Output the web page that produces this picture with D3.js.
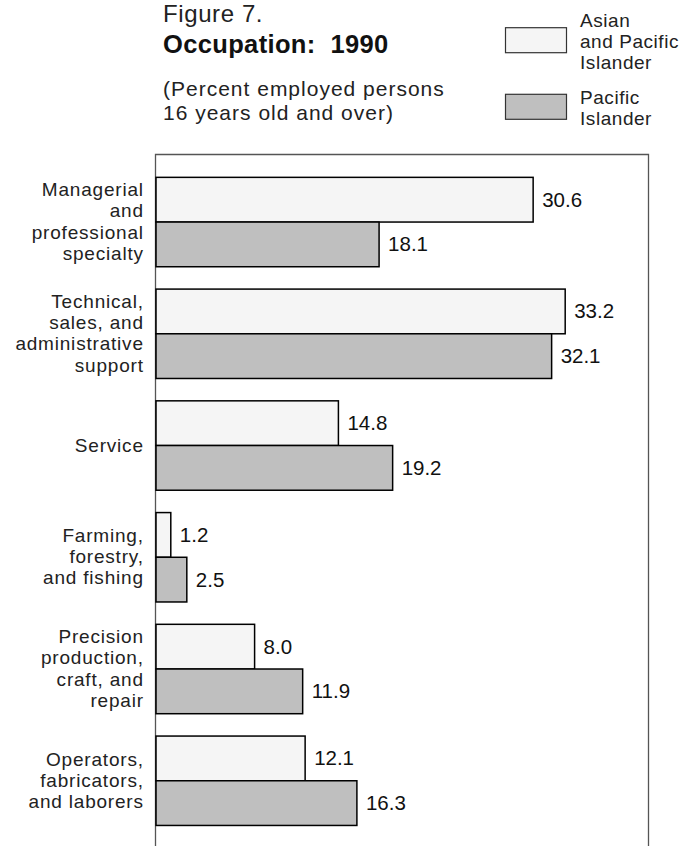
<!DOCTYPE html>
<html>
<head>
<meta charset="utf-8">
<script src="https://cdn.jsdelivr.net/npm/d3@7"></script>
<style>
  html, body { margin: 0; padding: 0; background: #fff; }
  svg { display: block; font-family: "Liberation Sans", Arial, Helvetica, sans-serif; }
  text { white-space: pre; }
</style>
</head>
<body>
<svg id="chart" width="691" height="846"></svg>
<script>
// Occupation groups (line breaks mark the wrapped label lines)
const categories = [
  "Managerial\nand\nprofessional\nspecialty",
  "Technical,\nsales, and\nadministrative\nsupport",
  "Service",
  "Farming,\nforestry,\nand fishing",
  "Precision\nproduction,\ncraft, and\nrepair",
  "Operators,\nfabricators,\nand laborers"
];
const seriesNames = ["Asian and Pacific Islander", "Pacific Islander"];
const legendLabels = [["Asian", "and Pacific", "Islander"], ["Pacific", "Islander"]];
const asianPacificIslander = [30.6, 33.2, 14.8, 1.2, 8.0, 12.1];
const pacificIslander = [18.1, 32.1, 19.2, 2.5, 11.9, 16.3];
const seriesValues = [asianPacificIslander, pacificIslander];
const titleLines = ["Figure 7.", "Occupation:  1990"];
const subtitleLines = ["(Percent employed persons", "16 years old and over)"];

const fills = ["#f5f5f5", "#bfbfbf"];
const svg = d3.select("#chart");

// Scales
const x = d3.scaleLinear().domain([0, 40]).range([156, 649]);
const y = d3.scaleBand().domain(categories).range([155, 847.8])
  .paddingInner(0.2).paddingOuter(0.2);
const ySub = d3.scaleBand().domain(seriesNames).range([0, y.bandwidth()]);

// Plot frame (open at the bottom of the page)
svg.append("path")
  .attr("d", `M155.5,${850}V154.5H648.5V${850}`)
  .attr("fill", "none").attr("stroke", "#555").attr("stroke-width", 1.3);

// Titles
svg.append("text").attr("x", 163).attr("y", 22)
  .attr("font-size", 24).attr("letter-spacing", 0.6)
  .attr("fill", "#222").text(titleLines[0]);
svg.append("text").attr("x", 163).attr("y", 53)
  .attr("font-size", 25.5).attr("font-weight", "bold").attr("fill", "#111")
  .attr("letter-spacing", 0.35).text(titleLines[1]);
subtitleLines.forEach((t, i) => {
  svg.append("text").attr("x", 163).attr("y", 96 + i * 23.5)
    .attr("font-size", 21).attr("fill", "#222")
    .attr("letter-spacing", 1.0).text(t);
});

// Legend
const legendBoxY = [27.7, 94.3];
const legendTextY = [26.5, 104];
const legendLH = 21.2;
seriesNames.forEach((s, i) => {
  svg.append("rect")
    .attr("x", 505.5).attr("y", legendBoxY[i])
    .attr("width", 61).attr("height", 25)
    .attr("fill", fills[i]).attr("stroke", "#333").attr("stroke-width", 1.2);
  legendLabels[i].forEach((t, j) => {
    svg.append("text").attr("x", 580).attr("y", legendTextY[i] + j * legendLH)
      .attr("font-size", 19).attr("letter-spacing", 0.55)
      .attr("fill", "#222").text(t);
  });
});

// Bars
const groups = svg.append("g").selectAll("g")
  .data(categories)
  .join("g")
  .attr("transform", d => `translate(0,${y(d)})`);

groups.each(function(cat, ci) {
  const g = d3.select(this);
  seriesNames.forEach((s, si) => {
    const v = seriesValues[si][ci];
    g.append("rect")
      .attr("x", x(0)).attr("y", ySub(s))
      .attr("width", x(v) - x(0)).attr("height", ySub.bandwidth())
      .attr("fill", fills[si]).attr("stroke", "#000").attr("stroke-width", 1.5);
    g.append("text")
      .attr("x", x(v) + 9)
      .attr("y", ySub(s) + ySub.bandwidth() / 2 + 7)
      .attr("font-size", 20.5).attr("fill", "#111")
      .text(d3.format(".1f")(v));
  });
});

// Category labels
const lineH = 21.2;
const ls = 0.8;
categories.forEach(cat => {
  const lines = cat.split("\n");
  const cy = y(cat) + y.bandwidth() / 2;
  const first = cy - (lines.length - 1) / 2 * lineH + 6;
  const t = svg.append("text").attr("text-anchor", "end")
    .attr("font-size", 19).attr("letter-spacing", ls).attr("fill", "#222");
  lines.forEach((ln, i) => {
    t.append("tspan").attr("x", 143 + ls).attr("y", first + i * lineH).text(ln);
  });
});
</script>
</body>
</html>
